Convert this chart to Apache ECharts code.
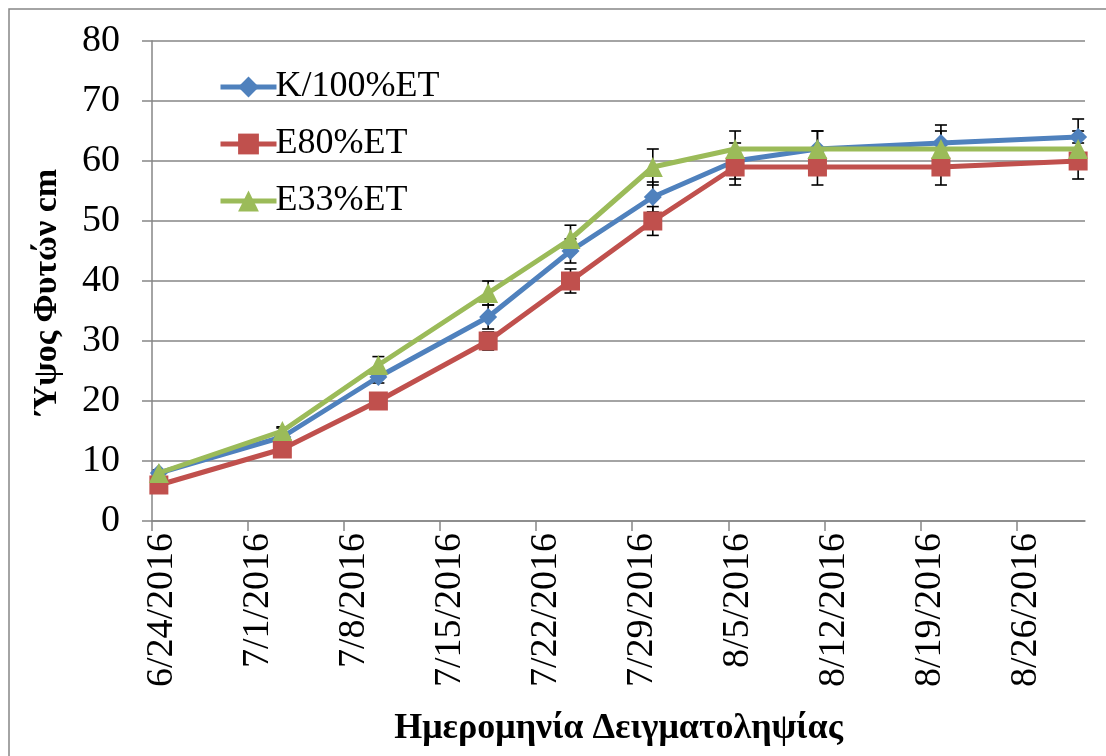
<!DOCTYPE html>
<html>
<head>
<meta charset="utf-8">
<script src="https://cdn.jsdelivr.net/npm/echarts@6/dist/echarts.min.js"></script>
<style>
  html, body { margin: 0; padding: 0; background: #fff; }
  #chart { width: 1106px; height: 756px; }
</style>
</head>
<body>
<div id="chart"></div>
<script>
// sampling dates (m/d, 2016)
var dates = ['6/24', '7/3', '7/10', '7/18', '7/24', '7/30', '8/5', '8/11', '8/20', '8/30'];
var names = ['K/100%ET', 'E80%ET', 'E33%ET'];
var colors = ['#4F81BD', '#C0504D', '#9BBB59'];
var symbols = ['diamond', 'rect', 'triangle'];

var k100 = [8, 14, 24, 34, 45, 54, 60, 62, 63, 64];
var e80 = [6, 12, 20, 30, 40, 50, 59, 59, 59, 60];
var e33 = [8, 15, 26, 38, 47, 59, 62, 62, 62, 62];

// standard error (+/-)
var k100Err = [0.5, 1.5, 1, 2, 2, 2.5, 3, 3, 3, 3];
var e80Err = [0.5, 1, 1, 1.5, 2, 2.4, 3, 3, 3, 3];
var e33Err = [0.5, 0.7, 1.4, 2, 2.3, 3, 3, 3, 3, 3];

var yTicks = [0, 10, 20, 30, 40, 50, 60, 70, 80];

var startDay = Date.UTC(2016, 5, 24);
var DAY = 86400000;

function dayOf(md) {
    var p = md.split('/');
    return Math.round((Date.UTC(2016, Number(p[0]) - 1, Number(p[1])) - startDay) / DAY);
}

function dateLabel(v) {
    var d = new Date(startDay + v * DAY);
    return (d.getUTCMonth() + 1) + '/' + d.getUTCDate() + '/' + d.getUTCFullYear();
}

// excel date axis puts each point in the middle of its day
var xs = dates.map(function (d) { return dayOf(d) + 0.5; });

var allVals = [k100, e80, e33];
var allErr = [k100Err, e80Err, e33Err];

var font = 'Liberation Serif';

var series = [];
for (var s = 0; s < 3; s++) {
    var errData = [];
    for (var i = 0; i < xs.length; i++) {
        errData.push([xs[i], allVals[s][i] - allErr[s][i], allVals[s][i] + allErr[s][i]]);
    }
    series.push({
        type: 'custom',
        z: 1,
        silent: true,
        data: errData,
        renderItem: function (params, api) {
            var top = api.coord([api.value(0), api.value(2)]);
            var bot = api.coord([api.value(0), api.value(1)]);
            var st = { stroke: '#000', lineWidth: 1.6 };
            return {
                type: 'group',
                children: [
                    { type: 'line', shape: { x1: top[0], y1: top[1], x2: bot[0], y2: bot[1] }, style: st },
                    { type: 'line', shape: { x1: top[0] - 6, y1: top[1], x2: top[0] + 6, y2: top[1] }, style: st },
                    { type: 'line', shape: { x1: bot[0] - 6, y1: bot[1], x2: bot[0] + 6, y2: bot[1] }, style: st }
                ]
            };
        }
    });
}
for (var s = 0; s < 3; s++) {
    series.push({
        name: names[s],
        type: 'line',
        z: 3 + s,
        data: xs.map(function (x, i) { return [x, allVals[s][i]]; }),
        symbol: symbols[s],
        symbolSize: s == 0 ? 18 : (s == 1 ? 19 : 20),
        showAllSymbol: true,
        lineStyle: { color: colors[s], width: 5 },
        itemStyle: { color: colors[s] }
    });
}

var chart = echarts.init(document.getElementById('chart'));
chart.setOption({
    animation: false,
    backgroundColor: '#fff',
    graphic: [{
        type: 'rect',
        shape: { x: 9, y: 9, width: 1200, height: 900 },
        style: { fill: 'none', stroke: '#868686', lineWidth: 1.5 },
        z: -10
    }],
    grid: { left: 152, right: 21, top: 41, bottom: 235 },
    legend: {
        orient: 'vertical',
        left: 213,
        top: 64,
        itemWidth: 56,
        itemHeight: 26,
        itemGap: 21,
        data: names,
        lineStyle: { width: 5 },
        textStyle: { fontFamily: font, fontSize: 36, color: '#000', padding: [0, 0, 0, -6] }
    },
    xAxis: {
        type: 'value',
        min: 0,
        max: 68,
        interval: 7,
        name: 'Ημερομηνία Δειγματοληψίας',
        nameLocation: 'middle',
        nameGap: 190,
        nameTextStyle: { fontFamily: font, fontSize: 36, fontWeight: 'bold', color: '#000' },
        axisLine: { lineStyle: { color: '#868686', width: 1.5 } },
        axisTick: { show: true, length: 10, lineStyle: { color: '#868686', width: 1.5 } },
        splitLine: { show: false },
        axisLabel: {
            rotate: 90,
            margin: 12,
            fontFamily: font,
            fontSize: 38,
            color: '#000',
            verticalAlign: 'top',
            lineHeight: 20,
            showMaxLabel: false,
            formatter: dateLabel
        }
    },
    yAxis: {
        type: 'value',
        min: yTicks[0],
        max: yTicks[yTicks.length - 1],
        interval: 10,
        name: 'Ύψος Φυτών cm',
        nameLocation: 'middle',
        nameGap: 88,
        nameTextStyle: { fontFamily: font, fontSize: 34, fontWeight: 'bold', color: '#000', padding: [0, 22, 0, 0] },
        axisLine: { show: true, lineStyle: { color: '#868686', width: 1.5 } },
        axisTick: { show: true, length: 10, lineStyle: { color: '#868686', width: 1.5 } },
        splitLine: { lineStyle: { color: '#868686', width: 1.5 } },
        axisLabel: { margin: 32, fontFamily: font, fontSize: 38, color: '#000' }
    },
    series: series
});
</script>
</body>
</html>
